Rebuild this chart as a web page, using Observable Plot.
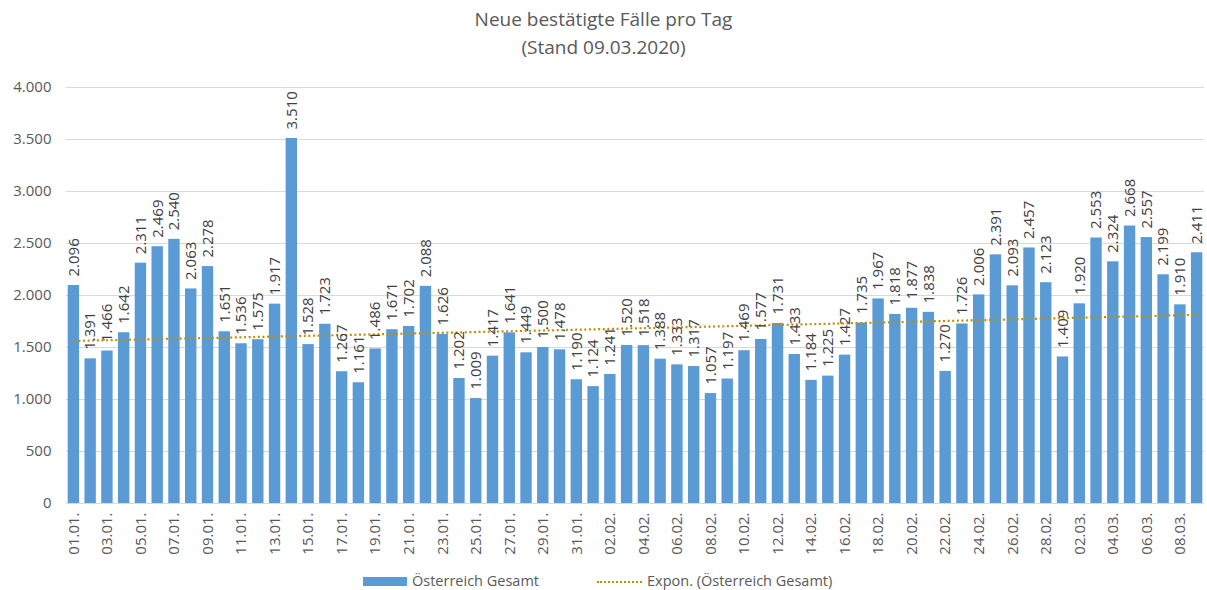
<!DOCTYPE html>
<html><head><meta charset="utf-8">
<script src="https://cdn.jsdelivr.net/npm/d3@7"></script>
<script src="https://cdn.jsdelivr.net/npm/@observablehq/plot@0.6"></script>
<style>
body{margin:0;background:#fff;font-family:"Open Sans",sans-serif;}
#wrap{position:relative;width:1207px;height:590px;overflow:hidden;}
#chart{position:absolute;top:0;left:0;}
#chart svg{overflow:visible;}
.title{position:absolute;left:0;width:1207px;text-align:center;font-size:19px;color:#595959;line-height:24px;}
.leg{position:absolute;font-size:14.5px;color:#595959;line-height:18px;white-space:nowrap;}
.sw{position:absolute;}
</style></head>
<body>
<div id="wrap">
  <div id="chart"></div>
  <div class="title" style="top:7px">Neue bestätigte Fälle pro Tag</div>
  <div class="title" style="top:35px">(Stand 09.03.2020)</div>
  <div class="sw" style="left:363px;top:577px;width:44px;height:9px;background:#5B9BD5"></div>
  <div class="leg" style="left:412px;top:572px">Österreich Gesamt</div>
  <div class="sw" style="left:597px;top:581px;width:45px;height:0;border-top:2px dotted #BF9000"></div>
  <div class="leg" style="left:647px;top:572px">Expon. (Österreich Gesamt)</div>
</div>
<script>
const dates = [
 "01.01.","02.01.","03.01.","04.01.","05.01.","06.01.","07.01.","08.01.","09.01.","10.01.",
 "11.01.","12.01.","13.01.","14.01.","15.01.","16.01.","17.01.","18.01.","19.01.","20.01.",
 "21.01.","22.01.","23.01.","24.01.","25.01.","26.01.","27.01.","28.01.","29.01.","30.01.","31.01.",
 "01.02.","02.02.","03.02.","04.02.","05.02.","06.02.","07.02.","08.02.","09.02.","10.02.",
 "11.02.","12.02.","13.02.","14.02.","15.02.","16.02.","17.02.","18.02.","19.02.","20.02.",
 "21.02.","22.02.","23.02.","24.02.","25.02.","26.02.","27.02.","28.02.",
 "01.03.","02.03.","03.03.","04.03.","05.03.","06.03.","07.03.","08.03.","09.03."
];
const cases = [
 2096,1391,1466,1642,2311,2469,2540,2063,2278,1651,
 1536,1575,1917,3510,1528,1723,1267,1161,1486,1671,
 1702,2088,1626,1202,1009,1417,1641,1449,1500,1478,1190,
 1124,1241,1520,1518,1388,1333,1317,1057,1197,1469,
 1577,1731,1433,1184,1225,1427,1735,1967,1818,1877,
 1838,1270,1726,2006,2391,2093,2457,2123,
 1409,1920,2553,2324,2668,2557,2199,1910,2411
];
const yTicks = [0,500,1000,1500,2000,2500,3000,3500,4000];
const xTickLabels = dates.filter((d,i) => i % 2 === 0);
const seriesName = "Österreich Gesamt";

const data = dates.map((d,i) => ({date: d, value: cases[i]}));

// Exponential trendline (least squares on ln(y)), as Excel computes it
const xs = d3.range(1, cases.length + 1);
const lys = cases.map(Math.log);
const mx = d3.mean(xs), my = d3.mean(lys);
const b = d3.sum(xs, (x,i) => (x - mx) * (lys[i] - my)) / d3.sum(xs, x => (x - mx) ** 2);
const a = my - b * mx;
const trend = dates.map((d,i) => ({date: d, value: Math.exp(a + b * xs[i])}));

const fmt = v => d3.format(",.0f")(v).replace(/,/g, ".");

const chart = Plot.plot({
  width: 1207,
  height: 590,
  marginTop: 87,
  marginBottom: 87,
  marginLeft: 66,
  marginRight: 3,
  style: {fontFamily: "'Open Sans', sans-serif", fontSize: "15px", color: "#595959", background: "transparent", overflow: "visible"},
  x: {type: "band", domain: dates, paddingInner: 0.32, paddingOuter: 0.1, label: null},
  y: {domain: [0, 4000], label: null},
  marks: [
    Plot.gridY(yTicks, {stroke: "#d9d9d9", strokeOpacity: 1, strokeWidth: 1}),
    Plot.barY(data, {x: "date", y: "value", fill: "#5B9BD5"}),
    Plot.line(trend, {x: "date", y: "value", stroke: "#BF9000", strokeWidth: 2.2, strokeDasharray: "2 2.6", strokeLinecap: "butt"}),
    Plot.text(data, {x: "date", y: "value", text: d => fmt(d.value), rotate: -90, textAnchor: "start", dy: -9, fill: "#404040", fontSize: 15}),
    Plot.axisY({ticks: yTicks, tickFormat: fmt, tickSize: 0, tickPadding: 15, label: null}),
    Plot.axisX({ticks: xTickLabels, tickRotate: -90, tickSize: 0, tickPadding: 9, label: null})
  ]
});
document.getElementById("chart").appendChild(chart);
</script>
</body></html>
